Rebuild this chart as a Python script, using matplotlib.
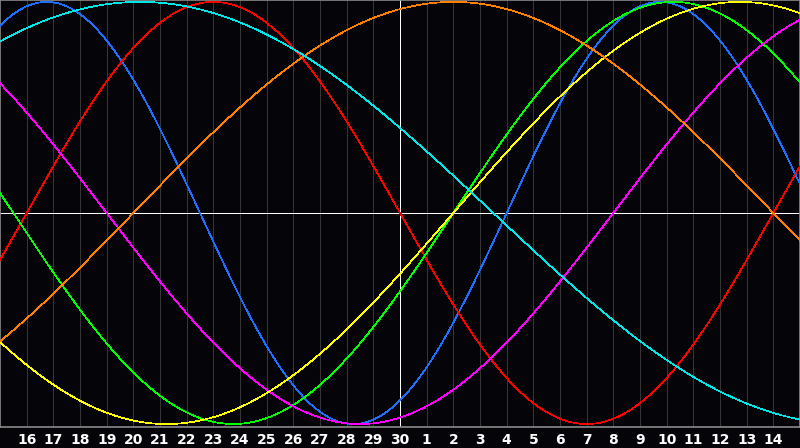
import numpy as np
import matplotlib
matplotlib.use("Agg")
import matplotlib.pyplot as plt

# Biorhythm chart data
days_since_birth_at_start = 28363          # day count at the left edge of the chart
cycle_names = ["Physical", "Emotional", "Intellectual", "Intuitive",
               "Aesthetic", "Awareness", "Spiritual"]
cycle_periods = [23, 28, 33, 38, 43, 48, 53]
cycle_colors = ["#1e6eff", "#ff0000", "#00ff00", "#ff00ff",
                "#ffff00", "#ff8000", "#00e6e6"]
day_labels = [16, 17, 18, 19, 20, 21, 22, 23, 24, 25, 26, 27, 28, 29, 30,
              1, 2, 3, 4, 5, 6, 7, 8, 9, 10, 11, 12, 13, 14]
span_days = 30
today_index = 15

BG = "#050408"
fig = plt.figure(figsize=(8, 4.48), dpi=100, facecolor=BG)
ax = fig.add_axes([0, 21 / 448, 1, 427 / 448])
ax.set_facecolor(BG)
ax.set_xlim(0, span_days)
ax.set_ylim(-1.014, 1.009)

for k in range(1, span_days):
    ax.axvline(k, color="#363636", lw=0.5, antialiased=False, zorder=1)

x = np.linspace(0, span_days, 1500)
for name, period, color in zip(cycle_names, cycle_periods, cycle_colors):
    t = days_since_birth_at_start + x
    ax.plot(x, np.sin(2 * np.pi * t / period), color=color, lw=0.5,
            antialiased=False, zorder=3, label=name)

ax.axvline(today_index, color="white", lw=0.6, antialiased=False, zorder=2)
ax.axhline(0, color="white", lw=0.6, antialiased=False, zorder=2)

for s in ax.spines.values():
    s.set_color("#8a8a8a")
    s.set_linewidth(1.2)

ax.set_xticks(range(1, span_days))
ax.set_xticklabels([str(d) for d in day_labels], color="white",
                   fontweight="bold", fontsize=10, fontfamily="DejaVu Sans")
ax.tick_params(axis="x", length=0, pad=4)
ax.set_yticks([])

fig.savefig("out.png", dpi=100, facecolor=BG)
